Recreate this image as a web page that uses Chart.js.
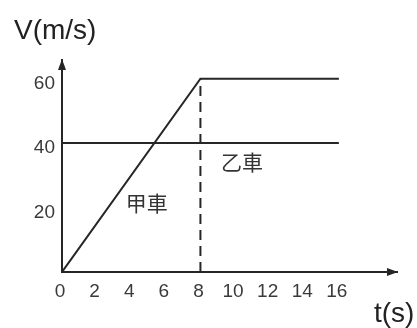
<!DOCTYPE html>
<html>
<head>
<meta charset="utf-8">
<script src="https://cdn.jsdelivr.net/npm/chart.js@4/dist/chart.umd.min.js"></script>
<style>
  html, body { margin: 0; padding: 0; background: #ffffff; }
  #wrap { width: 417px; height: 328px; position: relative; }
</style>
</head>
<body>
<div id="wrap"><canvas id="c"></canvas></div>
<script>
// ---- data ----
const jiaTimes = [0, 8, 16];          // 甲車 t (s)
const jiaSpeeds = [0, 60, 60];        // 甲車 V (m/s)
const yiTimes = [0, 16];              // 乙車 t (s)
const yiSpeeds = [40, 40];            // 乙車 V (m/s)
const guideTimes = [8, 8];            // dashed guide at t = 8
const guideSpeeds = [0, 60];
const xTickValues = [0, 2, 4, 6, 8, 10, 12, 14, 16];
const yTickValues = [20, 40, 60];
const seriesNames = ['甲車', '乙車'];
const xAxisTitle = 't(s)';
const yAxisTitle = 'V(m/s)';
// label anchors in data units
const seriesLabelAt = [{ t: 4.9, v: 21.4 }, { t: 10.4, v: 34.2 }];

const toPts = (xs, ys) => xs.map((x, i) => ({ x: x, y: ys[i] }));
const INK = '#262626';

const decor = {
  id: 'decor',
  afterDraw(chart) {
    const ctx = chart.ctx;
    const a = chart.chartArea;
    const xs = chart.scales.x, ys = chart.scales.y;
    const ox = xs.getPixelForValue(0), oy = ys.getPixelForValue(0);
    ctx.save();
    ctx.fillStyle = INK;
    // x arrow
    ctx.beginPath();
    ctx.moveTo(a.right + 1, oy);
    ctx.lineTo(a.right - 10, oy - 4);
    ctx.lineTo(a.right - 10, oy + 4);
    ctx.closePath();
    ctx.fill();
    // y arrow
    ctx.beginPath();
    ctx.moveTo(ox, a.top - 1);
    ctx.lineTo(ox - 4, a.top + 10);
    ctx.lineTo(ox + 4, a.top + 10);
    ctx.closePath();
    ctx.fill();
    // axis titles
    ctx.fillStyle = '#222';
    ctx.font = '28px "Liberation Sans", Arial, sans-serif';
    ctx.textBaseline = 'middle';
    ctx.textAlign = 'left';
    ctx.fillText(yAxisTitle, 14, 31);
    ctx.fillText(xAxisTitle, 374, 314);
    // series labels
    ctx.font = '21px "Noto Sans CJK TC", sans-serif';
    ctx.fillStyle = '#333';
    ctx.textAlign = 'center';
    seriesLabelAt.forEach((p, i) => {
      ctx.fillText(seriesNames[i], xs.getPixelForValue(p.t), ys.getPixelForValue(p.v));
    });
    ctx.restore();
  }
};

const tickFont = { family: '"Liberation Sans", Arial, sans-serif', size: 19 };

new Chart(document.getElementById('c'), {
  type: 'line',
  data: {
    datasets: [
      { label: seriesNames[0], data: toPts(jiaTimes, jiaSpeeds), borderColor: INK, borderWidth: 2 },
      { label: seriesNames[1], data: toPts(yiTimes, yiSpeeds), borderColor: INK, borderWidth: 2 },
      { label: 'guide', data: toPts(guideTimes, guideSpeeds), borderColor: INK, borderWidth: 2, borderDash: [10, 6] }
    ]
  },
  options: {
    responsive: true,
    maintainAspectRatio: false,
    animation: false,
    devicePixelRatio: 1,
    layout: { padding: { top: 60, right: 20, left: 0, bottom: 0 } },
    elements: { point: { radius: 0 }, line: { tension: 0 } },
    plugins: { legend: { display: false }, tooltip: { enabled: false } },
    scales: {
      x: {
        type: 'linear', min: 0, max: 19.36,
        grid: { display: false, drawTicks: false },
        border: { display: true, color: INK, width: 2 },
        afterBuildTicks: s => { s.ticks = xTickValues.map(v => ({ value: v })); },
        afterFit: s => { s.height = 56; },
        ticks: { font: tickFont, color: '#3a3a3a', padding: 8, labelOffset: -2, autoSkip: false, maxRotation: 0 }
      },
      y: {
        type: 'linear', min: 0, max: 65.8,
        grid: { display: false, drawTicks: false },
        border: { display: true, color: INK, width: 2 },
        afterBuildTicks: s => { s.ticks = yTickValues.map(v => ({ value: v })); },
        afterFit: s => { s.width = 62; },
        ticks: { font: tickFont, color: '#3a3a3a', padding: 7, labelOffset: 5, autoSkip: false }
      }
    }
  },
  plugins: [decor]
});
</script>
</body>
</html>
